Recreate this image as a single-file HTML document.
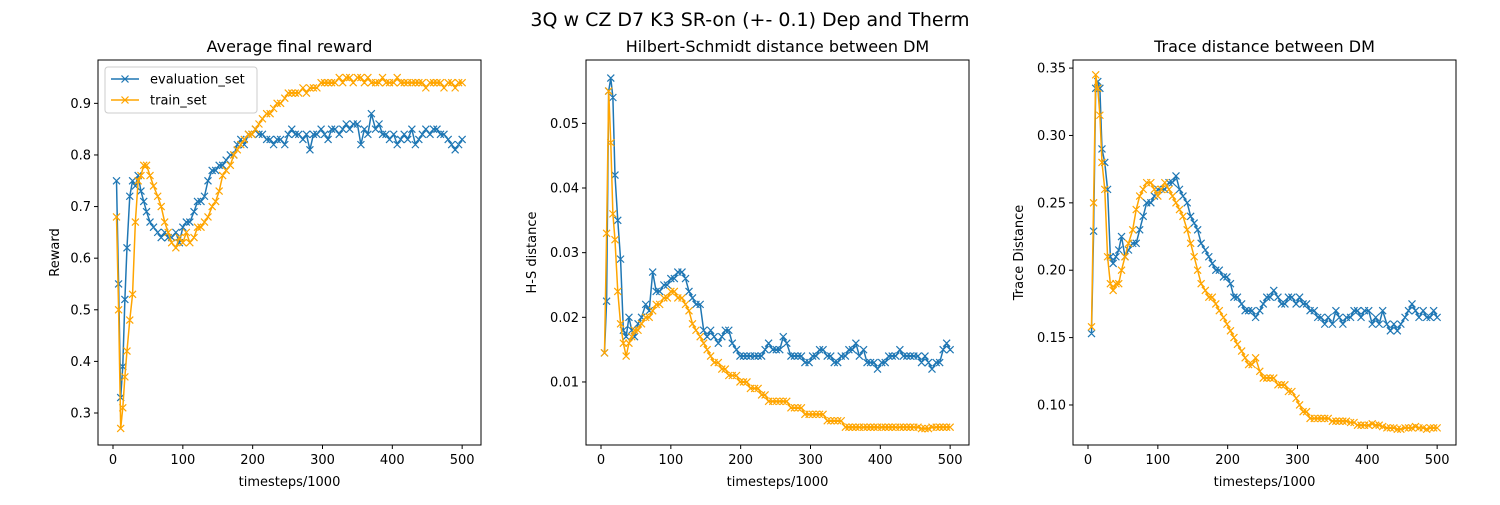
<!DOCTYPE html>
<html><head><meta charset="utf-8"><style>
body{margin:0;background:#fff;font-family:"Liberation Sans","DejaVu Sans",sans-serif}
svg text{font-family:"DejaVu Sans","Liberation Sans",sans-serif}
</style></head><body>
<svg id="fig" width="1500" height="500" viewBox="0 0 1500 500" xmlns="http://www.w3.org/2000/svg">
<rect width="1500" height="500" fill="#fff"/>
<text x="750" y="26" font-size="19" text-anchor="middle">3Q w CZ D7 K3 SR-on (+- 0.1) Dep and Therm</text>
</svg>
<script>
const timesteps=[5,8,11,14,17,20,24,28,32,36,40,44,48,53,58,64,69,74,79,84,90,95,100,105,110,116,121,126,131,136,142,147,152,157,162,168,173,178,183,188,194,199,204,209,214,220,225,230,235,240,246,251,256,261,266,272,277,282,287,292,298,303,308,313,318,324,329,334,339,344,350,355,360,365,370,376,381,386,391,396,402,407,412,417,422,428,433,438,443,448,454,459,464,469,474,480,485,490,495,500];
const rewardEval=[0.75,0.55,0.33,0.39,0.52,0.62,0.72,0.75,0.74,0.76,0.73,0.71,0.69,0.67,0.66,0.65,0.64,0.65,0.64,0.64,0.65,0.63,0.66,0.67,0.67,0.69,0.71,0.71,0.72,0.75,0.77,0.77,0.78,0.78,0.79,0.80,0.80,0.82,0.83,0.82,0.84,0.84,0.85,0.84,0.84,0.83,0.83,0.82,0.83,0.83,0.82,0.84,0.85,0.84,0.84,0.83,0.84,0.81,0.84,0.84,0.85,0.84,0.83,0.85,0.85,0.84,0.85,0.86,0.85,0.86,0.86,0.82,0.85,0.84,0.88,0.85,0.86,0.84,0.84,0.83,0.84,0.82,0.83,0.84,0.83,0.85,0.82,0.83,0.84,0.85,0.84,0.85,0.85,0.84,0.84,0.83,0.82,0.81,0.82,0.83];
const rewardTrain=[0.68,0.50,0.27,0.31,0.37,0.42,0.48,0.53,0.67,0.75,0.76,0.78,0.78,0.76,0.74,0.72,0.70,0.67,0.65,0.63,0.62,0.64,0.63,0.65,0.63,0.64,0.66,0.66,0.67,0.68,0.70,0.71,0.73,0.76,0.77,0.78,0.80,0.81,0.82,0.83,0.84,0.84,0.85,0.86,0.87,0.88,0.88,0.89,0.90,0.90,0.91,0.92,0.92,0.92,0.92,0.93,0.92,0.93,0.93,0.93,0.94,0.94,0.94,0.94,0.94,0.95,0.94,0.95,0.95,0.94,0.95,0.95,0.94,0.95,0.94,0.94,0.94,0.95,0.94,0.94,0.94,0.95,0.94,0.94,0.94,0.94,0.94,0.94,0.94,0.93,0.94,0.94,0.94,0.94,0.93,0.94,0.94,0.93,0.94,0.94];
const hsEval=[0.0145,0.0225,0.055,0.057,0.054,0.042,0.035,0.029,0.018,0.017,0.020,0.018,0.017,0.019,0.020,0.022,0.021,0.027,0.024,0.024,0.025,0.025,0.026,0.026,0.027,0.027,0.026,0.024,0.023,0.022,0.022,0.018,0.017,0.018,0.017,0.016,0.017,0.018,0.018,0.016,0.015,0.014,0.014,0.014,0.014,0.014,0.014,0.014,0.015,0.016,0.015,0.015,0.015,0.017,0.016,0.014,0.014,0.014,0.014,0.013,0.013,0.014,0.014,0.015,0.015,0.014,0.014,0.013,0.013,0.014,0.014,0.015,0.015,0.016,0.014,0.015,0.013,0.013,0.013,0.012,0.013,0.013,0.014,0.014,0.014,0.015,0.014,0.014,0.014,0.014,0.014,0.013,0.014,0.013,0.012,0.013,0.013,0.015,0.016,0.015];
const hsTrain=[0.0145,0.033,0.055,0.047,0.036,0.032,0.024,0.019,0.016,0.014,0.016,0.017,0.018,0.018,0.019,0.020,0.020,0.021,0.022,0.022,0.023,0.023,0.024,0.024,0.023,0.023,0.022,0.021,0.019,0.018,0.017,0.016,0.015,0.014,0.013,0.013,0.012,0.012,0.011,0.011,0.011,0.010,0.010,0.010,0.009,0.009,0.009,0.008,0.008,0.007,0.007,0.007,0.007,0.007,0.007,0.006,0.006,0.006,0.006,0.005,0.005,0.005,0.005,0.005,0.005,0.004,0.004,0.004,0.004,0.004,0.003,0.003,0.003,0.003,0.003,0.003,0.003,0.003,0.003,0.003,0.003,0.003,0.003,0.003,0.003,0.003,0.003,0.003,0.003,0.003,0.003,0.0028,0.0028,0.0028,0.003,0.003,0.003,0.003,0.003,0.003];
const trEval=[0.153,0.229,0.335,0.34,0.335,0.29,0.28,0.26,0.21,0.205,0.21,0.215,0.225,0.21,0.215,0.22,0.22,0.23,0.24,0.25,0.25,0.255,0.26,0.26,0.26,0.265,0.265,0.27,0.26,0.255,0.25,0.24,0.235,0.23,0.22,0.215,0.21,0.205,0.20,0.20,0.195,0.195,0.19,0.18,0.18,0.175,0.17,0.17,0.17,0.165,0.17,0.175,0.18,0.18,0.185,0.18,0.175,0.175,0.18,0.18,0.175,0.18,0.175,0.175,0.17,0.17,0.165,0.165,0.16,0.165,0.16,0.17,0.165,0.16,0.165,0.165,0.17,0.17,0.165,0.17,0.17,0.16,0.165,0.16,0.17,0.16,0.155,0.16,0.155,0.16,0.165,0.17,0.175,0.17,0.165,0.17,0.165,0.165,0.17,0.165];
const trTrain=[0.158,0.25,0.345,0.335,0.315,0.28,0.26,0.21,0.19,0.185,0.19,0.19,0.20,0.21,0.22,0.23,0.245,0.255,0.26,0.265,0.265,0.26,0.255,0.26,0.265,0.26,0.255,0.25,0.245,0.24,0.23,0.22,0.21,0.20,0.19,0.185,0.18,0.18,0.175,0.17,0.165,0.16,0.155,0.15,0.145,0.14,0.135,0.13,0.13,0.135,0.125,0.12,0.12,0.12,0.12,0.115,0.115,0.115,0.11,0.11,0.105,0.10,0.095,0.095,0.09,0.09,0.09,0.09,0.09,0.09,0.088,0.088,0.088,0.088,0.088,0.087,0.087,0.085,0.085,0.085,0.085,0.086,0.085,0.085,0.084,0.083,0.083,0.083,0.082,0.082,0.083,0.083,0.083,0.084,0.083,0.083,0.082,0.083,0.083,0.083];
const xTicks=[0,100,200,300,400,500];
const rewardTicks=[0.3,0.4,0.5,0.6,0.7,0.8,0.9];
const hsTicks=[0.01,0.02,0.03,0.04,0.05];
const trTicks=[0.10,0.15,0.20,0.25,0.30,0.35];

const NS='http://www.w3.org/2000/svg';
const svg=document.getElementById('fig');
function mk(tag,attrs,parent){const e=document.createElementNS(NS,tag);for(const k in attrs)e.setAttribute(k,attrs[k]);(parent||svg).appendChild(e);return e;}
const BLUE='#1f77b4',ORANGE='#ffa500';
function panel(o){
  const g=mk('g',{});
  
  
  const L=o.left,R=o.left+383,T=60,B=445;
  const xs=v=>L+(v-(-21.5))/(548.5)*(R-L);
  const ys=v=>B-(v-o.ymin)/(o.ymax-o.ymin)*(B-T);
  const t=mk('text',{x:(L+R)/2,y:52,'font-size':16,'text-anchor':'middle'},g);t.textContent=o.title;
  
  
  xTicks.forEach(v=>{const x=xs(v);mk('line',{x1:x,x2:x,y1:B,y2:B+4,stroke:'#000','stroke-width':1},g);
    const tt=mk('text',{x:x,y:B+19,'font-size':13,'text-anchor':'middle'},g);tt.textContent=v;
    
    });
  o.ticks.forEach(v=>{const y=ys(v);mk('line',{x1:L-4,x2:L,y1:y,y2:y,stroke:'#000','stroke-width':1},g);
    const tt=mk('text',{x:L-7,y:y+4.5,'font-size':13,'text-anchor':'end'},g);tt.textContent=o.fmt(v);
    
    });
  const xl=mk('text',{x:(L+R)/2,y:486,'font-size':13,'text-anchor':'middle'},g);xl.textContent='timesteps/1000';
  
  
  const yl=mk('text',{x:0,y:0,'font-size':13,'text-anchor':'middle',transform:`translate(${o.ylx},${(T+B)/2}) rotate(-90)`},g);yl.textContent=o.ylabel;
  
  
  [[o.ev,BLUE,'evaluation-series'],[o.tr,ORANGE,'train-series']].forEach(([d,c,nm])=>{
    const sg=mk('g',{},g);
    
    
    const pts=d.map((v,i)=>[xs(timesteps[i]),ys(v)]);
    mk('polyline',{points:pts.map(p=>p.join(',')).join(' '),fill:'none',stroke:c,'stroke-width':1.5,'stroke-linejoin':'round'},sg);
    let dd='';pts.forEach(([x,y])=>{dd+=`M${x-3.5},${y-3.5}L${x+3.5},${y+3.5}M${x-3.5},${y+3.5}L${x+3.5},${y-3.5}`;});
    mk('path',{d:dd,stroke:c,'stroke-width':1.2,fill:'none'},sg);
  });
  const fr=mk('rect',{x:L,y:T,width:R-L,height:B-T,fill:'none',stroke:'#000','stroke-width':1},g);
  
  
  return g;
}
panel({name:'reward-panel',left:98,title:'Average final reward',ymin:0.238,ymax:0.984,ticks:rewardTicks,fmt:v=>v.toFixed(1),ylabel:'Reward',ylx:59,ev:rewardEval,tr:rewardTrain});
panel({name:'hs-distance-panel',left:586,title:'Hilbert-Schmidt distance between DM',ymin:0.00025,ymax:0.0598,ticks:hsTicks,fmt:v=>v.toFixed(2),ylabel:'H-S distance',ylx:536,ev:hsEval,tr:hsTrain});
panel({name:'trace-distance-panel',left:1073,title:'Trace distance between DM',ymin:0.0703,ymax:0.356,ticks:trTicks,fmt:v=>v.toFixed(2),ylabel:'Trace Distance',ylx:1023,ev:trEval,tr:trTrain});
const lg=mk('g',{});


mk('rect',{x:105,y:67,width:152,height:46,rx:3,fill:'#fff','fill-opacity':0.8,stroke:'#ccc'},lg);
[['evaluation_set',BLUE,79],['train_set',ORANGE,100]].forEach(([lab,c,y])=>{
  const e=mk('g',{},lg);
  
  
  mk('line',{x1:111,x2:139,y1:y,y2:y,stroke:c,'stroke-width':1.5},e);
  mk('path',{d:`M121.5,${y-3.5}L128.5,${y+3.5}M121.5,${y+3.5}L128.5,${y-3.5}`,stroke:c,'stroke-width':1.2},e);
  const t=mk('text',{x:150,y:y+4.5,'font-size':13},e);t.textContent=lab;
});
</script>
</body></html>
